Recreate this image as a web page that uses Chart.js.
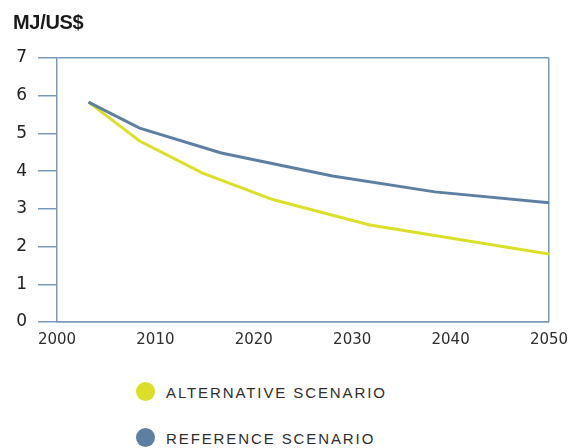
<!DOCTYPE html>
<html lang="en">
<head>
    <meta charset="UTF-8">
    <title>MJ/US$</title>
    <script src="https://cdn.jsdelivr.net/npm/chart.js"></script>
    <style>
        body { margin: 0; background: #fff; }
        #wrap { position: relative; width: 586px; height: 448px; overflow: hidden; }
        #title { position: absolute; left: 13px; top: 11px; font: bold 20px "Liberation Sans", Arial, sans-serif; color: #1a1a1a; letter-spacing: -0.3px; }
        #chartBox { position: absolute; left: 0; top: 0; width: 586px; height: 360px; }
        .legend-item { position: absolute; left: 136px; font: 15px "Liberation Sans", Arial, sans-serif; letter-spacing: 1.9px; color: #2e2e2e; }
        .legend-item span { display: inline-block; width: 19px; height: 19px; border-radius: 50%; vertical-align: -3px; margin-right: 11px; }
    </style>
</head>
<body>
    <div id="wrap">
        <div id="chartBox"><canvas id="intensityChart"></canvas></div>
        <div id="title">MJ/US$</div>
        <div class="legend-item" style="top: 382px;"><span style="background:#dbe026"></span>ALTERNATIVE SCENARIO</div>
        <div class="legend-item" style="top: 428px;"><span style="background:#5d80a2"></span>REFERENCE SCENARIO</div>
    </div>

    <script>
        // values
        const referenceYears = [2003.2, 2008.4, 2016.7, 2028, 2038.4, 2050];
        const referenceValues = [5.83, 5.14, 4.48, 3.87, 3.45, 3.16];
        const alternativeYears = [2003.2, 2008.4, 2014.8, 2022, 2031.8, 2050];
        const alternativeValues = [5.83, 4.80, 3.95, 3.24, 2.57, 1.80];

        const axisColor = '#7a9abb';

        function points(xs, ys) {
            return xs.map((x, i) => ({ x: x, y: ys[i] }));
        }

        const ctx = document.getElementById('intensityChart').getContext('2d');
        new Chart(ctx, {
            type: 'line',
            data: {
                datasets: [{
                    label: 'REFERENCE SCENARIO',
                    data: points(referenceYears, referenceValues),
                    borderColor: '#5d80a2',
                    borderWidth: 3,
                    pointRadius: 0,
                    tension: 0
                }, {
                    label: 'ALTERNATIVE SCENARIO',
                    data: points(alternativeYears, alternativeValues),
                    borderColor: '#dbe026',
                    borderWidth: 3,
                    pointRadius: 0,
                    tension: 0
                }]
            },
            options: {
                responsive: true,
                maintainAspectRatio: false,
                animation: false,
                layout: { padding: { left: 0, top: 58, right: 37, bottom: 0 } },
                plugins: { legend: { display: false }, tooltip: { enabled: false } },
                scales: {
                    x: {
                        type: 'linear',
                        min: 2000,
                        max: 2050,
                        ticks: {
                            stepSize: 10,
                            padding: 9,
                            color: '#2e2e2e',
                            font: { family: 'DejaVu Sans', size: 15 },
                            callback: v => String(v),
                            maxRotation: 0
                        },
                        grid: {
                            drawTicks: false,
                            color: c => (c.tick && c.tick.value === 2050) ? axisColor : 'transparent',
                            lineWidth: 1.5
                        },
                        border: { color: axisColor, width: 1.5 },
                        afterFit: s => { s.height = 38; }
                    },
                    y: {
                        min: 0,
                        max: 7,
                        ticks: {
                            stepSize: 1,
                            padding: 11,
                            color: '#222',
                            font: { family: 'DejaVu Sans', size: 17 }
                        },
                        grid: {
                            tickLength: 19,
                            tickColor: axisColor,
                            color: c => (c.tick && (c.tick.value === 0 || c.tick.value === 7)) ? axisColor : 'transparent',
                            lineWidth: 1.5
                        },
                        border: { color: axisColor, width: 1.5 },
                        afterFit: s => { s.width = 57; }
                    }
                }
            }
        });
    </script>
</body>
</html>
